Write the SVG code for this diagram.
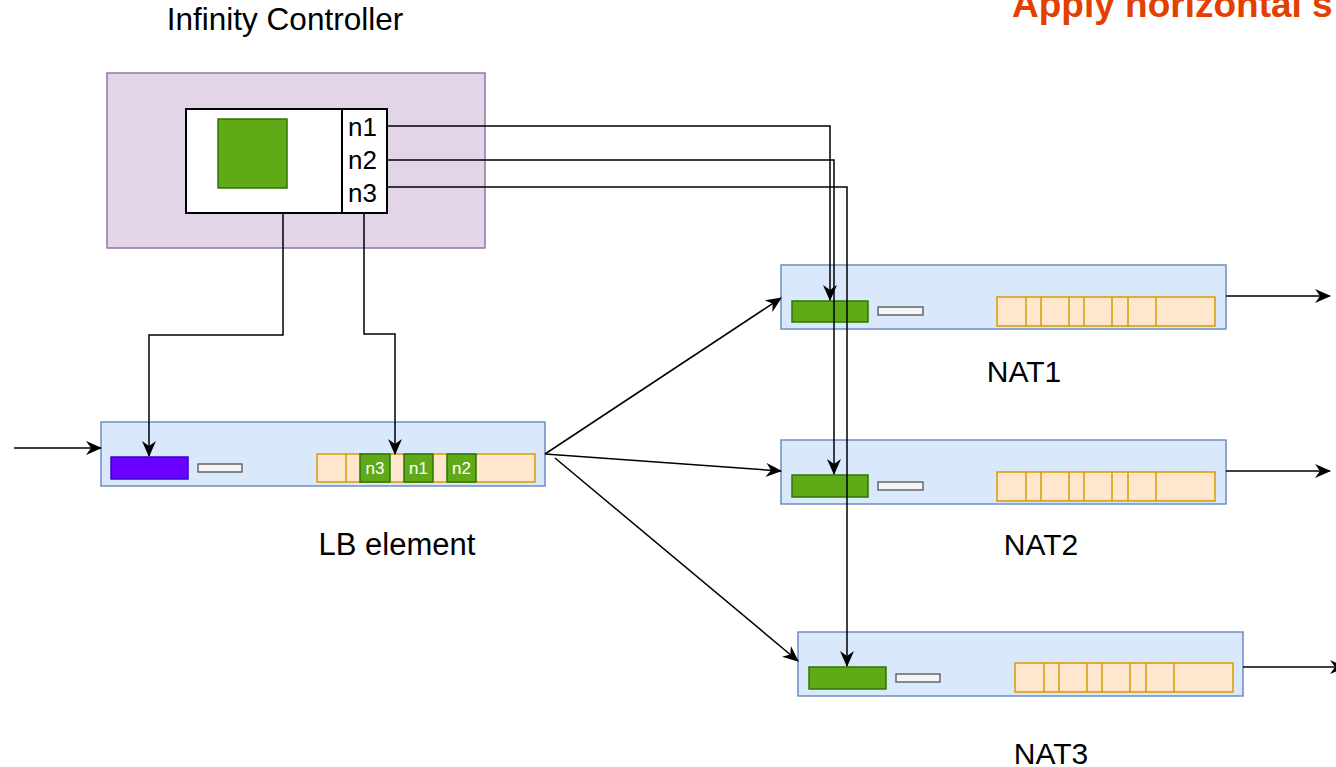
<svg xmlns="http://www.w3.org/2000/svg" width="1336" height="767" viewBox="0 0 1336 767">
<style>
text{font-family:"Liberation Sans",Arial,sans-serif;fill:#000}
.lbl{font-size:30px;text-anchor:middle}
.box{fill:#dae8fc;stroke:#6c8ebf;stroke-width:1.5}
.grn{fill:#60a917;stroke:#2d7600;stroke-width:1.5}
.wht{fill:#f5f5f5;stroke:#666666;stroke-width:1.5}
.org{fill:#ffe6cc;stroke:#d79b00;stroke-width:1.5}
.cn{fill:none;stroke:#000;stroke-width:1.5;marker-end:url(#ah)}
.gt{font-size:17px;fill:#fff;text-anchor:middle}
.nt{font-size:26px}
</style>
<defs>
<marker id="ah" markerUnits="userSpaceOnUse" markerWidth="16" markerHeight="14" viewBox="0 0 16 14" refX="15" refY="7" orient="auto">
<path d="M0,0 L16,7 L0,14 L5,7 Z" fill="#000"/>
</marker>
<g id="strip">
<rect class="org" x="0" y="0" width="218" height="29"/>
<path d="M29,0V29M44,0V29M72,0V29M87,0V29M115,0V29M131,0V29M159,0V29" fill="none" stroke="#d79b00" stroke-width="1.5"/>
</g>
</defs>

<text x="1012" y="17" style="font-size:37px;font-weight:bold;fill:#e34000">Apply horizontal s</text>

<g id="controller">
<text class="lbl" x="285" y="30" style="font-size:31.5px">Infinity Controller</text>
<rect x="107" y="73" width="378" height="175" fill="#e1d5e7" stroke="#9673a6" stroke-width="1.5"/>
<rect x="186" y="109" width="156" height="104" fill="#fff" stroke="#000" stroke-width="2"/>
<rect x="342" y="109" width="45" height="104" fill="#fff" stroke="#000" stroke-width="2"/>
<rect class="grn" x="218" y="119" width="69" height="69"/>
<text class="nt" x="348" y="136">n1</text>
<text class="nt" x="348" y="169">n2</text>
<text class="nt" x="348" y="202">n3</text>
</g>

<g id="lb">
<rect class="box" x="101" y="422" width="444" height="64"/>
<rect x="111" y="457" width="77" height="22" fill="#6a00ff" stroke="#3700cc" stroke-width="1.5"/>
<rect class="wht" x="198" y="464" width="44" height="8"/>
<rect class="org" x="317" y="454" width="218" height="28"/>
<path d="M346,454V482" stroke="#d79b00" stroke-width="1.5"/>
<rect class="grn" x="360" y="454" width="30" height="28"/>
<rect class="grn" x="404" y="454" width="29" height="28"/>
<rect class="grn" x="447" y="454" width="29" height="28"/>
<text class="gt" x="375" y="474">n3</text>
<text class="gt" x="418.5" y="474">n1</text>
<text class="gt" x="461.5" y="474">n2</text>
<text class="lbl" x="397" y="555" style="font-size:31px">LB element</text>
</g>

<g id="nat1">
<rect class="box" x="781" y="265" width="445" height="64"/>
<rect class="grn" x="792" y="301" width="76" height="21"/>
<rect class="wht" x="878" y="307" width="45" height="8"/>
<use href="#strip" x="997" y="297"/>
<text class="lbl" x="1024" y="382">NAT1</text>
</g>

<g id="nat2">
<rect class="box" x="781" y="440" width="445" height="64"/>
<rect class="grn" x="792" y="475" width="76" height="22"/>
<rect class="wht" x="878" y="482" width="45" height="8"/>
<use href="#strip" x="997" y="472"/>
<text class="lbl" x="1041" y="555">NAT2</text>
</g>

<g id="nat3">
<rect class="box" x="798" y="632" width="445" height="64"/>
<rect class="grn" x="809" y="667" width="77" height="22"/>
<rect class="wht" x="896" y="674" width="44" height="8"/>
<use href="#strip" x="1015" y="663"/>
<text class="lbl" x="1051" y="764">NAT3</text>
</g>

<g id="connectors">
<path class="cn" d="M14,448H101"/>
<path class="cn" d="M283,213V335H149V456"/>
<path class="cn" d="M364,213V334H395V454"/>
<path class="cn" d="M387,126H830V300"/>
<path class="cn" d="M387,160H834V474"/>
<path class="cn" d="M387,187H847V666"/>
<path class="cn" d="M545,454L781,298"/>
<path class="cn" d="M545,454L781,471"/>
<path class="cn" d="M555,458L798,661"/>
<path class="cn" d="M1226,296H1330"/>
<path class="cn" d="M1226,471H1330"/>
<path class="cn" d="M1243,667H1345"/>
</g>
</svg>
